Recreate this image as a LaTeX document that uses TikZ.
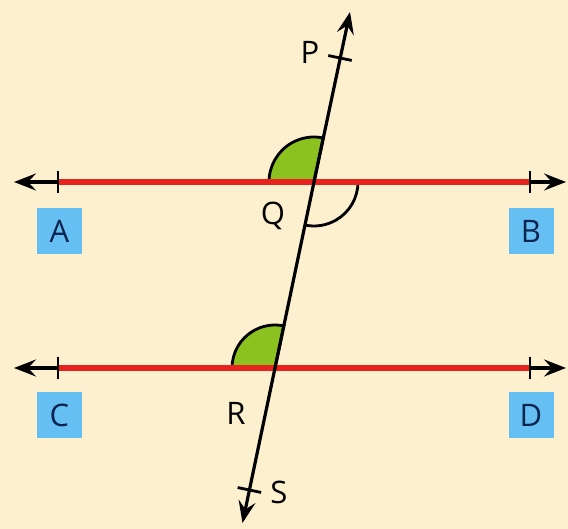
\documentclass[tikz,border=0pt]{standalone}
\usepackage{fontspec}
\setmainfont{Open Sans}
\usetikzlibrary{arrows.meta,calc}
\definecolor{bgc}{HTML}{FCF0CF}
\definecolor{redl}{HTML}{E8221E}
\definecolor{greenf}{HTML}{8CC21F}
\definecolor{boxb}{HTML}{66BFF2}
\definecolor{navy}{HTML}{0B2550}
\tikzset{
  redline/.style={draw=redl, line width=6pt},
  blackline/.style={draw=black, line width=3.2pt},
  tip/.style={-{Stealth[length=22pt,width=17pt,inset=8pt]}},
  tick/.style={draw=black, line width=2.8pt},
  lbox/.style={fill=boxb, minimum width=45pt, minimum height=46pt, inner sep=0pt, text=navy, font=\fontsize{31}{31}\selectfont},
  ptlabel/.style={text=black, inner sep=0pt, font=\fontsize{31}{31}\selectfont},
  greenangle/.style={fill=greenf, draw=black, line width=2.8pt},
  openangle/.style={draw=black, line width=2.8pt}
}
\begin{document}
\begin{tikzpicture}[x=1pt,y=1pt]
\useasboundingbox (0,0) rectangle (568,529);
\fill[bgc] (0,0) rectangle (568,529);
% key points
\coordinate (Q) at (314,347);
\coordinate (R) at (275,161);
\coordinate (Ptop) at (350,517);
\coordinate (Sbot) at (242.5,6);
\coordinate (Ptick) at (340,471);
\coordinate (Stick) at (249.4,39);
\coordinate (AL) at (14,347);
\coordinate (AT) at (58,347);
\coordinate (BT) at (530,347);
\coordinate (BR) at (566,347);
\coordinate (CL) at (14,161);
\coordinate (CT) at (58,161);
\coordinate (DT) at (530,161);
\coordinate (DR) at (566,161);
% angles
\path[greenangle] (Q) -- ++(180:45) arc[start angle=180, end angle=78.16, radius=45] -- cycle;
\path[greenangle] (R) -- ++(180:43) arc[start angle=180, end angle=78.16, radius=43] -- cycle;
\draw[openangle] (Q) ++(0:44) arc[start angle=0, end angle=-101.84, radius=44];
% horizontal lines
\draw[blackline, tip] (AT) -- (AL);
\draw[blackline, tip] (BT) -- (BR);
\draw[blackline, tip] (CT) -- (CL);
\draw[blackline, tip] (DT) -- (DR);
\draw[redline] (AT) -- (BT);
\draw[redline] (CT) -- (DT);
\foreach \p in {AT,BT,CT,DT} {
  \draw[tick] ($(\p)+(0,-11)$) -- ($(\p)+(0,11)$);
}
% transversal
\draw[blackline, tip] (Q) -- (Ptop);
\draw[blackline, tip] (R) -- (Sbot);
\draw[blackline] (Q) -- (R);
\draw[tick] (Ptick) -- ++(-11.8:12) (Ptick) -- ++(168.2:12);
\draw[tick] (Stick) -- ++(-11.8:12) (Stick) -- ++(168.2:12);
% labels
\node[lbox] (A) at (59.5,297.5) {A};
\node[lbox] (B) at (531,297.5) {B};
\node[lbox] (C) at (59.5,114) {C};
\node[lbox] (D) at (531,114) {D};
\node[ptlabel] (P) at (310,477) {P};
\node[ptlabel] (Ql) at (273,313) {Q};
\node[ptlabel] (Rl) at (236,116) {R};
\node[ptlabel] (Sl) at (279,37) {S};
\end{tikzpicture}
\end{document}
